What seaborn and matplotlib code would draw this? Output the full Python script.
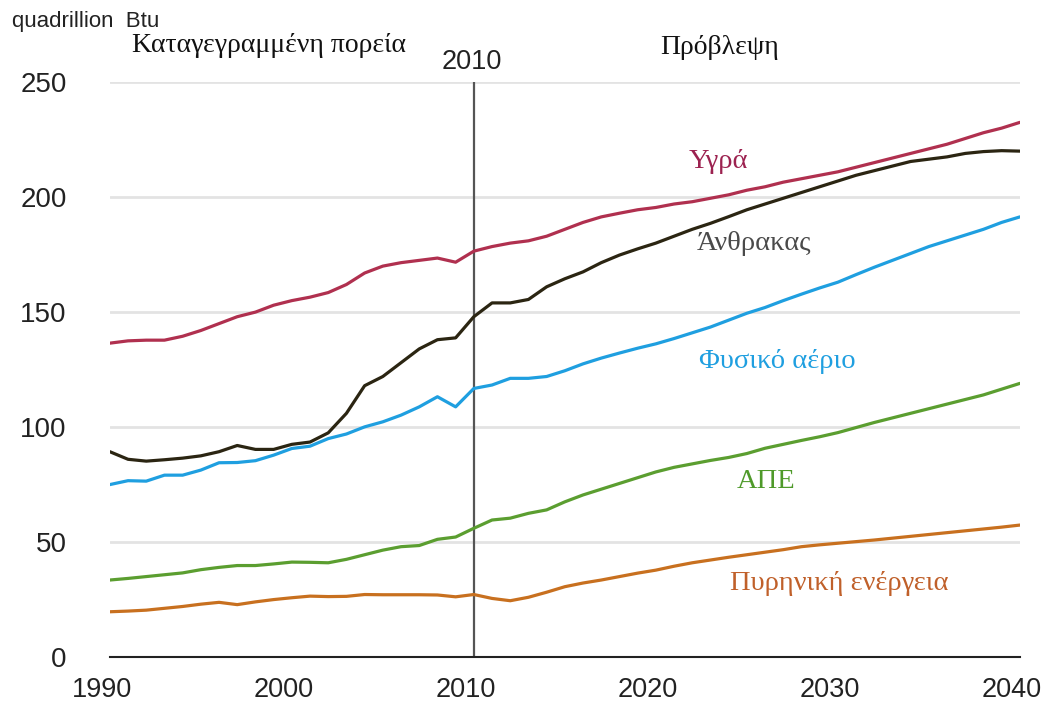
import pandas as pd
import matplotlib
matplotlib.use('Agg')
import matplotlib.pyplot as plt
import matplotlib.transforms as mtransforms
import seaborn as sns

# ---------------------------------------------------------
# 1. ΔΕΔΟΜΕΝΑ (quadrillion Btu)
# ---------------------------------------------------------
years = list(range(1990, 2041))

liquids = [136.5, 137.5, 137.8, 137.8, 139.5, 142, 145, 148, 150, 153,
           155, 156.5, 158.5, 162, 167, 170, 171.5, 172.5, 173.5, 171.7,
           176.5, 178.5, 180, 181, 183, 186, 189, 191.4, 193, 194.5,
           195.5, 197, 198, 199.5, 201, 203, 204.5, 206.5, 208, 209.5,
           211, 213, 215, 217, 219, 221, 223, 225.5, 228, 230, 232.5]

coal = [89.3, 86, 85.2, 85.8, 86.5, 87.5, 89.3, 92, 90.3, 90.3,
        92.5, 93.5, 97.5, 106, 118, 122, 128, 134, 138, 138.8,
        148, 154, 154, 155.5, 161, 164.5, 167.5, 171.5, 174.8, 177.5,
        180, 183, 186, 188.6, 191.5, 194.5, 197, 199.5, 202, 204.5,
        207, 209.5, 211.5, 213.5, 215.5, 216.5, 217.5, 219, 219.8, 220.2, 220]

gas = [75, 76.7, 76.5, 79.1, 79.1, 81.3, 84.5, 84.6, 85.4, 87.8,
       90.7, 91.7, 95, 97, 100.1, 102.3, 105.2, 108.8, 113.2, 108.8,
       116.8, 118.3, 121.2, 121.2, 122, 124.5, 127.5, 130, 132.2, 134.3,
       136.2, 138.5, 141, 143.5, 146.5, 149.5, 152, 155, 157.8, 160.5,
       163, 166.3, 169.5, 172.5, 175.5, 178.5, 181, 183.5, 186, 189, 191.4]

renewables = [33.5, 34.2, 35, 35.8, 36.6, 38, 39, 39.8, 39.8, 40.5,
              41.3, 41.2, 41, 42.5, 44.5, 46.5, 48, 48.5, 51.2, 52.2,
              56, 59.6, 60.4, 62.5, 64, 67.5, 70.5, 73, 75.5, 78,
              80.5, 82.5, 84, 85.5, 86.8, 88.5, 90.8, 92.5, 94.2, 95.8,
              97.6, 99.8, 102, 104, 106, 108, 110, 112, 114, 116.5, 119]

nuclear = [19.7, 20, 20.4, 21.2, 22, 23, 23.8, 22.8, 24, 25,
           25.8, 26.5, 26.3, 26.4, 27.2, 27.1, 27.1, 27.1, 27, 26.2,
           27.2, 25.5, 24.5, 26, 28.2, 30.6, 32.2, 33.5, 35, 36.5,
           37.8, 39.5, 41, 42.2, 43.4, 44.5, 45.6, 46.7, 48, 48.8,
           49.5, 50.2, 50.9, 51.7, 52.5, 53.3, 54.1, 54.9, 55.7, 56.5, 57.4]

series_names = ['Υγρά', 'Άνθρακας', 'Φυσικό αέριο', 'ΑΠΕ', 'Πυρηνική ενέργεια']
series_values = [liquids, coal, gas, renewables, nuclear]
colors = ['#b0304f', '#2b2512', '#1f9fe0', '#5b9e30', '#c8701f']
label_colors = ['#9c2250', '#4a4a4a', '#1f9fe0', '#4f9a2a', '#c0602a']

y_ticks = [0, 50, 100, 150, 200, 250]
x_ticks = [1990, 2000, 2010, 2020, 2030, 2040]

df = pd.DataFrame({
    'Έτος': years * len(series_names),
    'Τιμή': [v for s in series_values for v in s],
    'Πηγή': [n for n in series_names for _ in years],
})

# ---------------------------------------------------------
# 2. ΓΡΑΦΗΜΑ
# ---------------------------------------------------------
sns.set_style('white')
plt.rcParams['font.family'] = ['Liberation Sans', 'DejaVu Sans']

fig = plt.figure(figsize=(10.46, 7.02), dpi=100)
ax = fig.add_axes([0.105, 0.064, 0.870, 0.819])

for y in y_ticks[1:]:
    ax.axhline(y, color='#e3e3e3', linewidth=2, zorder=0)

sns.lineplot(data=df, x='Έτος', y='Τιμή', hue='Πηγή', hue_order=series_names,
             palette=colors, linewidth=2.3, legend=False, ax=ax, zorder=3)

ax.axvline(2010, ymin=0, ymax=1, color='#555555', linewidth=1.6, zorder=2)

ax.set_xlim(1990, 2040)
ax.set_ylim(0, 250)
ax.set_xticks(x_ticks)
ax.set_yticks(y_ticks)
ax.set_xlabel('')
ax.set_ylabel('')
for side in ['top', 'right', 'left']:
    ax.spines[side].set_visible(False)
ax.spines['bottom'].set_color('#222222')
ax.spines['bottom'].set_linewidth(1.5)
ax.tick_params(axis='x', length=9, width=1.5, color='#222222', labelsize=19.5,
               labelcolor='#222222', pad=5)
ax.tick_params(axis='y', length=0, labelsize=20, labelcolor='#222222', pad=31)

# ετικέτες του x λίγο προς τα αριστερά, όπως στο πρωτότυπο
shift = mtransforms.ScaledTranslation(-8 / 100, 0, fig.dpi_scale_trans)
for lbl in ax.get_xticklabels():
    lbl.set_transform(lbl.get_transform() + shift)

serif = ['Liberation Serif', 'DejaVu Serif']
W, H = 1046, 702
def ftext(px, py, s, **kw):
    fig.text(px / W, 1 - py / H, s, **kw)

ftext(12, 21, 'quadrillion  Btu', fontsize=16, va='center', ha='left', color='#222222')
ftext(132, 45, 'Καταγεγραμμένη πορεία', family=serif, fontsize=20, va='center', ha='left',
      color='#111111')
ftext(472, 62, '2010', fontsize=19.5, va='center', ha='center', color='#222222')
ftext(720, 47, 'Πρόβλεψη', family=serif, fontsize=20, va='center', ha='center',
      color='#111111')

label_pos = [(718, 161), (754, 243), (777, 362), (766, 481), (839, 583)]
for name, c, (px, py) in zip(series_names, label_colors, label_pos):
    ftext(px, py, name, family=serif, fontsize=20.5, color=c, va='center', ha='center')

fig.savefig('out.png', dpi=100)
